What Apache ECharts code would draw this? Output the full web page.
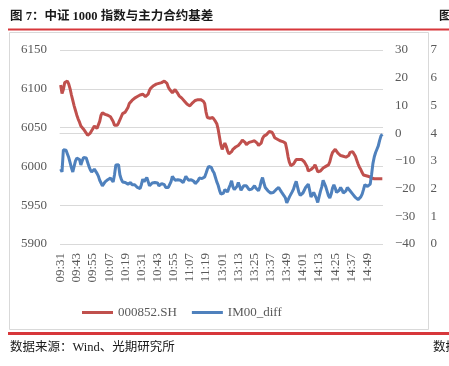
<!DOCTYPE html>
<html>
<head>
<meta charset="utf-8">
<script src="https://cdn.jsdelivr.net/npm/echarts@6/dist/echarts.min.js"></script>
<style>
  html, body { margin: 0; padding: 0; background: #fff; }
  #chart { width: 449px; height: 366px; }
</style>
</head>
<body>
<div id="chart"></div>
<script>
// trading minutes 09:31-11:30, 13:01-15:00
const pad = n => (n < 10 ? '0' : '') + n;
const times = [];
for (let m = 9 * 60 + 31; m <= 11 * 60 + 30; m++) times.push(pad(Math.floor(m / 60)) + ':' + pad(m % 60));
for (let m = 13 * 60 + 1; m <= 15 * 60; m++) times.push(pad(Math.floor(m / 60)) + ':' + pad(m % 60));

const indexLeft = [5900, 6150];   // 000852.SH axis
const diffRight = [-40, 30];      // IM00_diff axis
const nextPanelTicks = [0, 7];    // axis of the next (cut off) figure

const csi1000 = [
  6105, 6094, 6099, 6108, 6107, 6110, 6106, 6100, 6092, 6085,
  6078, 6072, 6066, 6061, 6057, 6052, 6050, 6048, 6046, 6043,
  6040, 6039, 6043, 6046, 6049, 6052, 6051, 6049, 6050, 6058,
  6066, 6069, 6068, 6067, 6067, 6066, 6065, 6064, 6062, 6058,
  6053, 6051, 6053, 6056, 6058, 6064, 6068, 6069, 6070, 6071,
  6076, 6081, 6083, 6085, 6087, 6088, 6089, 6090, 6091, 6092,
  6092, 6093, 6092, 6090, 6088, 6093, 6098, 6101, 6103, 6104,
  6105, 6106, 6106, 6107, 6108, 6108, 6109, 6110, 6110, 6107,
  6102, 6099, 6097, 6095, 6097, 6099, 6098, 6094, 6091, 6089,
  6088, 6086, 6084, 6082, 6080, 6078, 6078, 6080, 6082, 6084,
  6085, 6086, 6086, 6087, 6086, 6086, 6084, 6081, 6070, 6063,
  6061, 6062, 6063, 6063, 6061, 6058, 6055, 6048, 6038, 6028,
  6022, 6026, 6030, 6026, 6020, 6016, 6016, 6019, 6022, 6024,
  6025, 6026, 6027, 6028, 6031, 6034, 6035, 6031, 6028, 6029,
  6031, 6033, 6032, 6033, 6033, 6032, 6030, 6027, 6026, 6030,
  6036, 6039, 6040, 6041, 6043, 6045, 6046, 6044, 6041, 6037,
  6036, 6035, 6034, 6033, 6032, 6032, 6031, 6030, 6022, 6012,
  6005, 6001, 6000, 6003, 6006, 6009, 6008, 6009, 6009, 6009,
  6007, 6006, 6005, 6000, 5994, 5993, 5996, 5996, 5999, 6002,
  5998, 5993, 5992, 5994, 5996, 5998, 5999, 6000, 6001, 6002,
  6006, 6013, 6018, 6020, 6022, 6020, 6017, 6015, 6014, 6014,
  6013, 6013, 6012, 6011, 6014, 6018, 6020, 6019, 6018, 6013,
  6008, 6003, 5999, 5996, 5992, 5989, 5988, 5988, 5987, 5987,
  5986, 5985, 5985, 5984, 5984, 5984, 5985, 5984, 5984, 5984
];

const im00Diff = [
  -13, -14, -6, -5.5, -6.2, -7.5, -8.8, -10.6, -12.5, -14,
  -12, -10, -9, -8.5, -9.5, -11.5, -10, -8.8, -8.5, -9,
  -10.5, -12, -13.2, -14, -13.6, -13, -13.4, -14.5, -15.5, -17,
  -18, -19, -18.4, -17.6, -17.2, -16.8, -16.6, -16.2, -16.8, -17.6,
  -15, -11.5, -11, -11.4, -15, -16.6, -17.6, -17.2, -17.8, -18,
  -18.4, -18, -17.8, -18.6, -19, -18.6, -19.2, -19.6, -19.2, -20,
  -18.5, -16.6, -17.5, -17, -16, -17.5, -19, -18.6, -18, -18.4,
  -17.8, -17.2, -18, -19, -19, -18.2, -17.8, -18.6, -19.6, -20.2,
  -19.6, -19, -17.5, -15.6, -16.2, -17, -17.2, -16.8, -16.6, -17,
  -17.6, -17.8, -16.8, -15.6, -16.2, -17, -17.2, -16.8, -16.6, -17.4,
  -18.2, -18.4, -17.2, -16.2, -16, -16.4, -16.6, -15.8, -14.5, -13,
  -12, -11.6, -12.4, -13.6, -14.4, -16, -17.6, -18.8, -20.6, -22,
  -22.6, -21.6, -20.4, -20.8, -21.2, -19.8, -18.6, -17.2, -19.4, -20.4,
  -20.2, -19.2, -17.8, -19.2, -20.6, -20.2, -19, -18.4, -19, -19.6,
  -20.4, -20, -20.2, -19.6, -19, -19.8, -20.4, -20.8, -19.4, -17.4,
  -16, -18, -19.6, -20.2, -20.8, -21.2, -21.6, -22, -21.4, -20.8,
  -20.4, -19.8, -19.6, -20.4, -21.2, -21.8, -22.6, -23.4, -25.2, -24.8,
  -23, -22.4, -21.2, -20.2, -18.6, -17.4, -19.4, -21.4, -22.4, -23,
  -21.6, -20.6, -19.6, -19, -18.4, -20.6, -23, -22.4, -21.4, -22,
  -23.5, -25, -23, -21, -19.4, -17, -17.2, -19.4, -21, -22.6,
  -23.4, -22, -19.8, -18.6, -19.8, -21.4, -22, -20.6, -19.6, -20.4,
  -21.6, -22, -20.8, -19.6, -20, -20.8, -21.4, -22, -22.6, -23.2,
  -23.6, -24, -23.8, -23, -22, -20.4, -18.6, -18.8, -19.2, -19.6,
  -18.4, -15, -11, -8.6, -7, -5.8, -4.6, -2.6, -1, -0.4
];

const chart = echarts.init(document.getElementById('chart'));

const serif = 'Liberation Serif';
const cjk = '"Liberation Serif", "Noto Sans CJK SC"';
const labelGray = '#595959';

const option = {
  backgroundColor: '#fff',
  animation: false,
  graphic: {
    elements: [
      { type: 'text', left: 10, top: 11, style: { text: '图 7：中证 1000 指数与主力合约基差', font: 'bold 12.5px ' + cjk, fill: '#1a1a1a' } },
      { type: 'text', left: 439, top: 11, style: { text: '图', font: 'bold 12.5px ' + cjk, fill: '#1a1a1a' } },
      { type: 'rect', shape: { x: 8, y: 28.5, width: 441, height: 2 }, style: { fill: '#d7373b' } },
      { type: 'rect', shape: { x: 9.5, y: 32.5, width: 419, height: 297 }, style: { fill: 'none', stroke: '#d9d9d9', lineWidth: 1 } },
      { type: 'rect', shape: { x: 8, y: 332, width: 441, height: 3 }, style: { fill: '#d7373b' } },
      { type: 'text', left: 10, top: 341, style: { text: '数据来源：Wind、光期研究所', font: '12.5px ' + cjk, fill: '#1a1a1a' } },
      { type: 'text', left: 433, top: 341, style: { text: '数据', font: '12.5px ' + cjk, fill: '#1a1a1a' } }
    ]
  },
  legend: {
    left: 77,
    top: 301,
    itemWidth: 31,
    itemHeight: 3,
    itemGap: 15,
    icon: 'rect',
    textStyle: { fontFamily: serif, fontSize: 13, color: labelGray },
    data: ['000852.SH', 'IM00_diff']
  },
  grid: [
    { left: 60, right: 66, top: 50, bottom: 122 },
    { left: 441, right: 0, top: 50, bottom: 122 }
  ],
  xAxis: [
    {
      type: 'category',
      gridIndex: 0,
      data: times,
      boundaryGap: true,
      axisLine: { lineStyle: { color: '#d9d9d9' } },
      axisTick: { show: false },
      axisLabel: {
        interval: 11,
        rotate: 90,
        margin: 9,
        fontFamily: serif,
        fontSize: 13,
        color: labelGray
      }
    },
    { type: 'category', gridIndex: 1, data: [''], show: false }
  ],
  yAxis: [
    {
      type: 'value',
      gridIndex: 0,
      min: indexLeft[0],
      max: indexLeft[1],
      interval: 50,
      axisLine: { show: false },
      axisTick: { show: false },
      splitLine: { lineStyle: { color: '#d9d9d9' } },
      axisLabel: { margin: 13, fontFamily: serif, fontSize: 13, color: labelGray, formatter: v => String(v) }
    },
    {
      type: 'value',
      gridIndex: 0,
      position: 'right',
      min: diffRight[0],
      max: diffRight[1],
      interval: 10,
      axisLine: { show: false },
      axisTick: { show: false },
      splitLine: { show: false },
      axisLabel: {
        margin: 12,
        fontFamily: serif,
        fontSize: 13,
        color: labelGray,
        formatter: v => String(v).replace('-', '\u2212')
      }
    },
    {
      type: 'value',
      gridIndex: 1,
      min: nextPanelTicks[0],
      max: nextPanelTicks[1],
      interval: 1,
      axisLine: { show: false },
      axisTick: { show: false },
      splitLine: { show: false },
      axisLabel: { margin: 4, fontFamily: serif, fontSize: 13, color: labelGray }
    }
  ],
  series: [
    {
      name: '000852.SH',
      type: 'line',
      xAxisIndex: 0,
      yAxisIndex: 0,
      data: csi1000,
      showSymbol: false,
      lineStyle: { color: '#c0504d', width: 3 },
      itemStyle: { color: '#c0504d' }
    },
    {
      name: 'IM00_diff',
      type: 'line',
      xAxisIndex: 0,
      yAxisIndex: 1,
      data: im00Diff,
      showSymbol: false,
      lineStyle: { color: '#4f81bd', width: 3 },
      itemStyle: { color: '#4f81bd' }
    }
  ]
};

chart.setOption(option);
</script>
</body>
</html>
